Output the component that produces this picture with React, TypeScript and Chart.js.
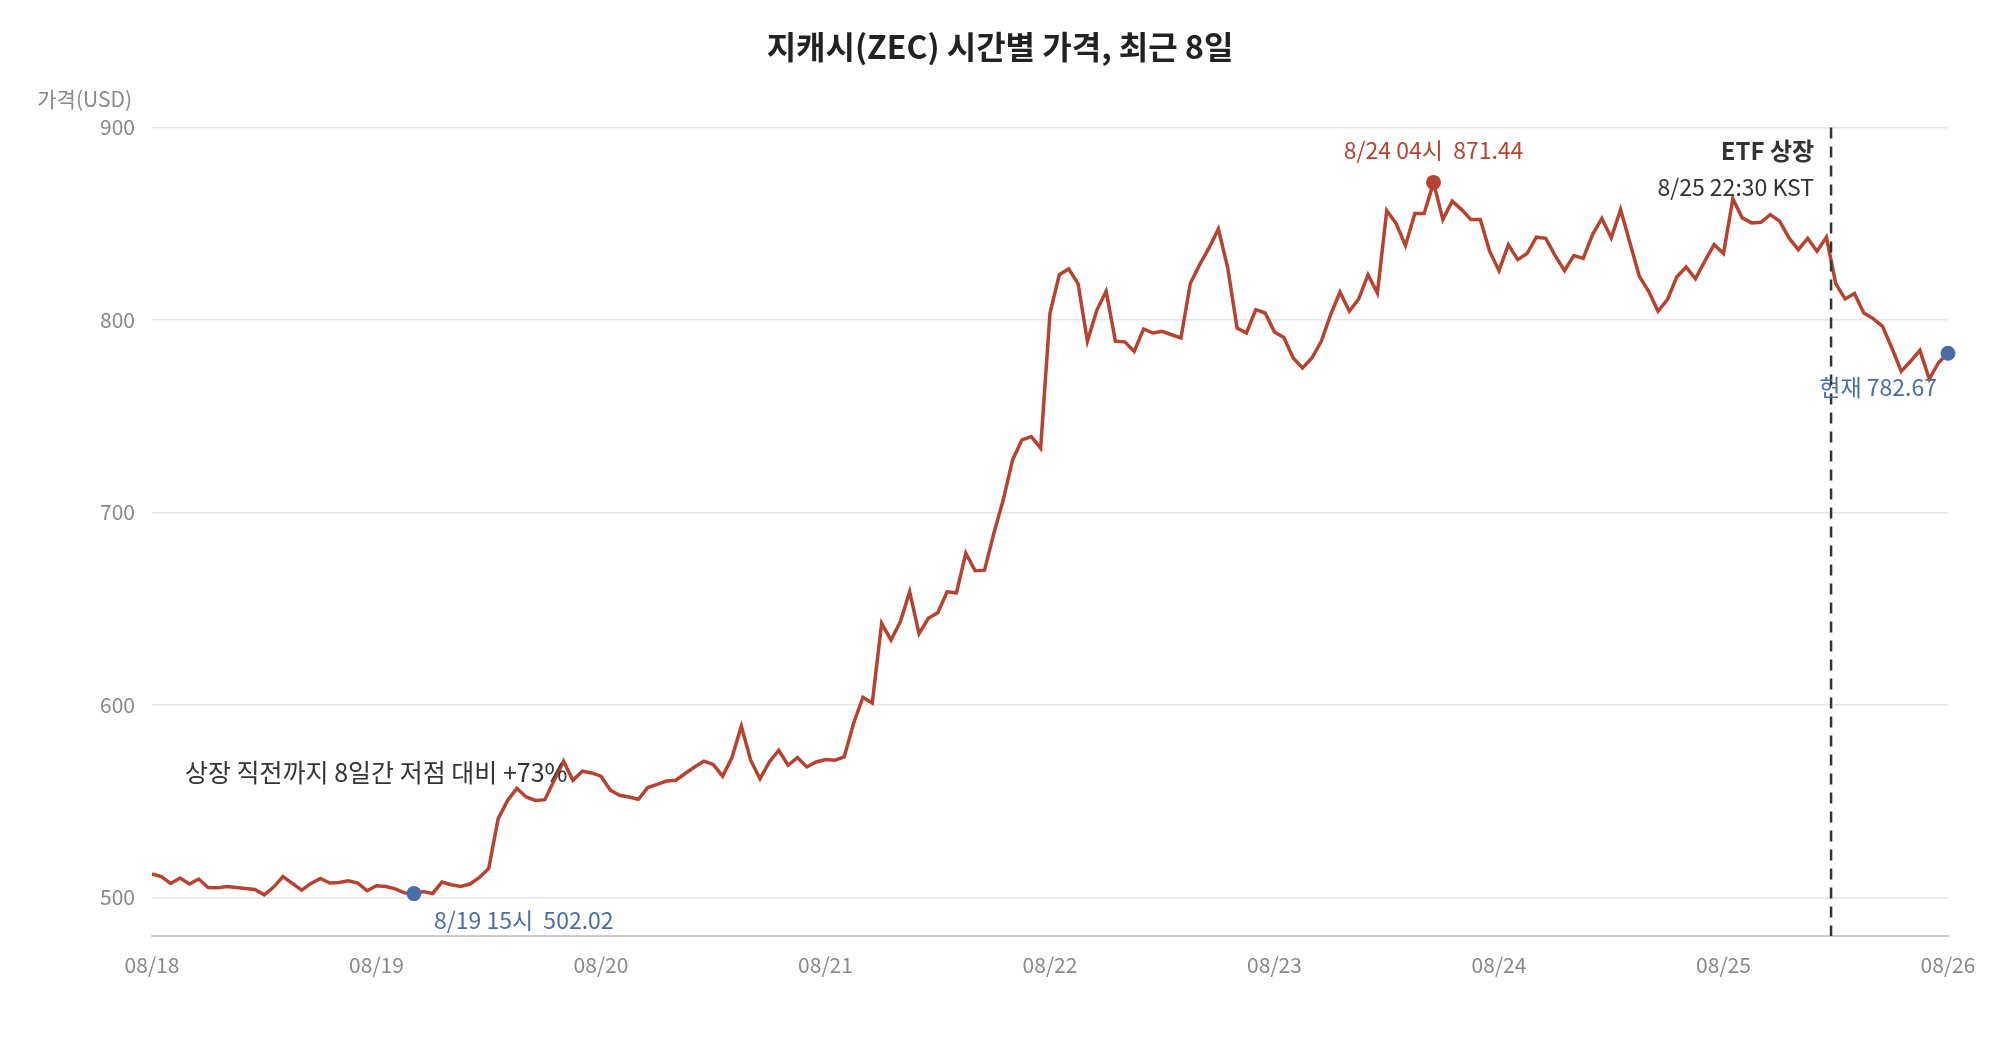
import { useEffect, useRef } from "react"
import { Chart, registerables } from "chart.js"
import type { Plugin } from "chart.js"

Chart.register(...registerables)

const FONT = '"Noto Sans CJK KR", "Noto Sans", sans-serif'
const RED = "#b5432f"
const BLUE = "#4a6da7"
const INK = "#333333"
const GRAY = "#888888"

// x axis: hours since 08/18 00:00, one tick per day
const dayLabels = ["08/18", "08/19", "08/20", "08/21", "08/22", "08/23", "08/24", "08/25", "08/26"]
const yTicks = [500, 600, 700, 800, 900]

// hourly ZEC price (USD)
const prices = [
  512.2, 510.9, 507.3, 510.1, 507.0, 509.6, 505.2, 505.0, 505.7, 505.2,
  504.7, 504.2, 501.4, 505.4, 510.9, 507.3, 503.8, 507.3, 509.9, 507.5,
  507.8, 508.7, 507.5, 503.5, 506.1, 505.7, 504.5, 502.4, 502.02, 503.1,
  502.1, 508.0, 506.6, 505.7, 507.0, 510.4, 515.1, 540.8, 550.3, 556.7,
  552.2, 550.4, 550.8, 560.9, 570.8, 560.9, 565.6, 564.7, 563.0, 555.7,
  553.1, 552.2, 551.0, 557.1, 558.8, 560.5, 560.9, 564.4, 567.8, 570.8,
  569.1, 563.0, 572.7, 589.0, 571.3, 561.7, 570.4, 576.5, 568.7, 572.7,
  567.8, 570.4, 571.7, 571.3, 573.0, 590.4, 604.0, 601.0, 642.4, 633.7,
  643.2, 658.8, 637.1, 645.0, 647.9, 658.8, 658.3, 678.8, 669.7, 670.0,
  689.2, 706.5, 727.3, 737.7, 739.4, 733.4, 803.6, 823.5, 826.5, 818.9,
  788.9, 805.0, 814.9, 788.9, 788.6, 783.6, 795.3, 793.2, 794.1, 792.3,
  790.6, 818.9, 828.7, 837.4, 847.3, 827.0, 795.8, 793.2, 805.3, 803.6,
  793.7, 790.9, 780.2, 775.0, 780.2, 788.9, 802.7, 814.5, 804.5, 810.9,
  823.5, 814.0, 856.8, 850.1, 838.6, 855.3, 855.3, 871.44, 852.1, 861.7,
  857.3, 852.1, 852.1, 835.7, 825.6, 839.1, 831.3, 834.5, 843.0, 842.4,
  833.4, 825.6, 833.4, 832.0, 844.3, 852.7, 842.6, 857.3, 840.0, 822.7,
  814.9, 804.5, 810.5, 822.3, 827.5, 821.3, 830.5, 839.1, 834.5, 862.9,
  853.0, 850.4, 850.7, 854.7, 851.3, 842.6, 836.5, 842.4, 835.7, 843.0,
  818.9, 810.9, 813.7, 803.6, 800.7, 796.7, 785.4, 773.3, 778.5, 784.2,
  769.3, 777.9, 782.67,
]

const lowIndex = 28
const peakIndex = 137
const nowIndex = prices.length - 1
const etfHour = 179.5

const lowLabel = "8/19 15시  502.02"
const peakLabel = "8/24 04시  871.44"
const nowLabel = "현재 782.67"
const etfTitle = "ETF 상장"
const etfTime = "8/25 22:30 KST"
const gainNote = "상장 직전까지 8일간 저점 대비 +73%"

const annotations: Plugin<"line"> = {
  id: "annotations",
  afterDatasetsDraw(chart) {
    const { ctx, chartArea } = chart
    const xs = chart.scales.x
    const ys = chart.scales.y
    const px = (i: number) => xs.getPixelForValue(i)
    const py = (v: number) => ys.getPixelForValue(v)

    ctx.save()

    // ETF listing marker
    const ex = px(etfHour)
    ctx.strokeStyle = INK
    ctx.lineWidth = 2.5
    ctx.setLineDash([11, 8])
    ctx.beginPath()
    ctx.moveTo(ex, chartArea.top)
    ctx.lineTo(ex, chartArea.bottom)
    ctx.stroke()
    ctx.setLineDash([])

    ctx.textBaseline = "middle"

    ctx.fillStyle = INK
    ctx.textAlign = "right"
    ctx.font = `bold 24px ${FONT}`
    ctx.fillText(etfTitle, ex - 17, chartArea.top + 23)
    ctx.font = `23px ${FONT}`
    ctx.fillText(etfTime, ex - 17, chartArea.top + 60)

    // peak
    ctx.fillStyle = RED
    ctx.textAlign = "center"
    ctx.font = `23px ${FONT}`
    ctx.fillText(peakLabel, px(peakIndex), py(prices[peakIndex]) - 32)

    // low
    ctx.fillStyle = BLUE
    ctx.textAlign = "left"
    ctx.fillText(lowLabel, px(lowIndex) + 20, py(prices[lowIndex]) + 27)

    // now
    ctx.textAlign = "right"
    ctx.fillText(nowLabel, px(nowIndex) - 11, py(prices[nowIndex]) + 34)

    // note
    ctx.fillStyle = INK
    ctx.textAlign = "left"
    ctx.font = `25px ${FONT}`
    ctx.fillText(gainNote, chartArea.left + 33, py(565))

    // y axis title
    ctx.fillStyle = GRAY
    ctx.textAlign = "right"
    ctx.font = `21px ${FONT}`
    ctx.fillText("가격(USD)", chartArea.left - 20, chartArea.top - 28)

    ctx.restore()
  },
}

export default function App() {
  const chartRef = useRef<HTMLCanvasElement>(null)
  const chartInstance = useRef<Chart | null>(null)

  useEffect(() => {
    if (!chartRef.current) return
    document.body.style.margin = "0"

    if (chartInstance.current) {
      chartInstance.current.destroy()
    }

    const ctx = chartRef.current.getContext("2d")
    if (!ctx) return

    const marked = [lowIndex, peakIndex, nowIndex]

    chartInstance.current = new Chart(ctx, {
      type: "line",
      data: {
        datasets: [
          {
            label: "ZEC",
            data: prices.map((p, i) => ({ x: i, y: p })),
            borderColor: RED,
            borderWidth: 3.5,
            tension: 0,
            clip: false,
            pointRadius: prices.map((_, i) => (marked.includes(i) ? 7.5 : 0)),
            pointBackgroundColor: prices.map((_, i) => (i === peakIndex ? RED : BLUE)),
            pointBorderWidth: 0,
          },
        ],
      },
      options: {
        animation: false,
        responsive: true,
        maintainAspectRatio: false,
        layout: {
          padding: { top: 0, right: 52, bottom: 54, left: 52 },
        },
        scales: {
          x: {
            type: "linear",
            min: 0,
            max: (dayLabels.length - 1) * 24,
            afterBuildTicks: (scale) => {
              scale.ticks = dayLabels.map((_, k) => ({ value: k * 24 }))
            },
            afterFit: (scale) => {
              scale.height = 50
            },
            grid: { display: false, drawTicks: false },
            border: { display: true, color: "#cccccc", width: 2 },
            ticks: {
              autoSkip: false,
              maxRotation: 0,
              padding: 16,
              color: GRAY,
              font: { family: FONT, size: 21 },
              callback: (value) => dayLabels[Math.round(Number(value) / 24)] ?? "",
            },
          },
          y: {
            min: 480,
            max: 900,
            afterBuildTicks: (scale) => {
              scale.ticks = yTicks.map((v) => ({ value: v }))
            },
            afterFit: (scale) => {
              scale.width = 100
            },
            grid: { color: "#e6e6e6", lineWidth: 1.5, drawTicks: false },
            border: { display: false },
            ticks: {
              padding: 17,
              color: GRAY,
              font: { family: FONT, size: 21 },
            },
          },
        },
        plugins: {
          legend: { display: false },
          tooltip: { enabled: false },
          title: {
            display: true,
            text: "지캐시(ZEC) 시간별 가격, 최근 8일",
            color: "#222222",
            font: { family: FONT, size: 32, weight: "bold" },
            padding: { top: 28, bottom: 61 },
          },
        },
      },
      plugins: [annotations],
    })

    return () => {
      if (chartInstance.current) {
        chartInstance.current.destroy()
        chartInstance.current = null
      }
    }
  }, [])

  return (
    <div style={{ position: "relative", width: 2000, height: 1040 }}>
      <canvas ref={chartRef} />
    </div>
  )
}
